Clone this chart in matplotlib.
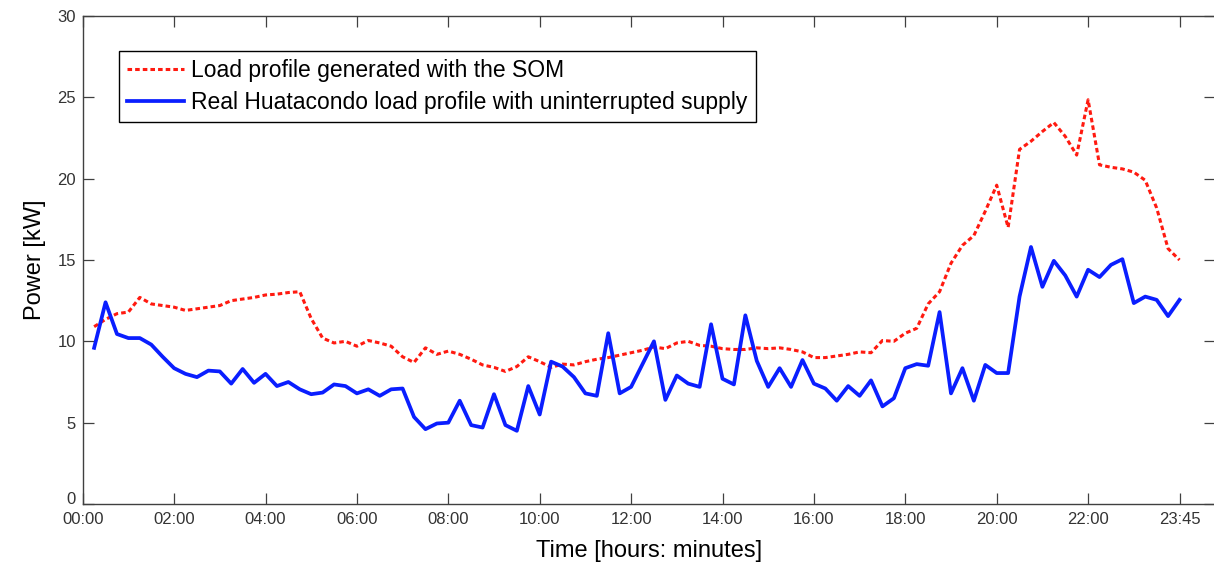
import matplotlib.pyplot as plt
import matplotlib.transforms as mtransforms
import numpy as np

plt.rcParams['font.family'] = ['Liberation Sans', 'DejaVu Sans']

# 15-minute steps, index 1..96 (tick 96 is labelled 23:45 as in the source figure)
steps = np.arange(1, 97)

som_profile = [
    10.9, 11.35, 11.7, 11.8, 12.7, 12.3, 12.2, 12.1, 11.9, 12.0,
    12.1, 12.2, 12.5, 12.6, 12.7, 12.85, 12.9, 13.0, 13.05, 11.4,
    10.2, 9.9, 10.0, 9.7, 10.05, 9.9, 9.7, 9.05, 8.7, 9.6,
    9.2, 9.4, 9.2, 8.9, 8.55, 8.4, 8.15, 8.45, 9.05, 8.75,
    8.4, 8.6, 8.55, 8.75, 8.9, 9.0, 9.15, 9.3, 9.45, 9.65,
    9.55, 9.9, 10.0, 9.75, 9.7, 9.55, 9.5, 9.5, 9.6, 9.55,
    9.6, 9.5, 9.35, 9.0, 9.0, 9.1, 9.2, 9.35, 9.3, 10.05,
    10.0, 10.5, 10.8, 12.3, 13.05, 14.8, 15.9, 16.5, 18.0, 19.6,
    17.0, 21.8, 22.3, 22.9, 23.45, 22.6, 21.45, 24.85, 20.85, 20.7,
    20.6, 20.4, 19.9, 18.2, 15.7, 15.0,
]

real_profile = [
    9.6, 12.4, 10.45, 10.2, 10.2, 9.8, 9.05, 8.35, 8.0, 7.8,
    8.2, 8.15, 7.4, 8.3, 7.45, 8.0, 7.25, 7.5, 7.05, 6.75,
    6.85, 7.35, 7.25, 6.8, 7.05, 6.65, 7.05, 7.1, 5.35, 4.6,
    4.95, 5.0, 6.35, 4.85, 4.7, 6.75, 4.85, 4.5, 7.25, 5.5,
    8.75, 8.45, 7.8, 6.8, 6.65, 10.5, 6.8, 7.2, 8.6, 10.0,
    6.4, 7.9, 7.4, 7.2, 11.05, 7.7, 7.35, 11.6, 8.8, 7.2,
    8.35, 7.2, 8.85, 7.4, 7.1, 6.35, 7.25, 6.65, 7.6, 6.0,
    6.5, 8.35, 8.6, 8.5, 11.8, 6.8, 8.35, 6.35, 8.55, 8.05,
    8.05, 12.75, 15.8, 13.35, 14.95, 14.05, 12.75, 14.4, 13.95, 14.7,
    15.05, 12.35, 12.75, 12.55, 11.55, 12.55,
]

tick_pos = [0, 8, 16, 24, 32, 40, 48, 56, 64, 72, 80, 88, 96]
tick_lbl = ['00:00', '02:00', '04:00', '06:00', '08:00', '10:00', '12:00',
            '14:00', '16:00', '18:00', '20:00', '22:00', '23:45']

W, H = 1214, 569
fig = plt.figure(figsize=(W / 100, H / 100), dpi=100)
left, right, top, bottom = 82.7, 1215, 16, 504
ax = fig.add_axes([left / W, 1 - bottom / H, (right - left) / W, (bottom - top) / H])

ax.plot(steps, som_profile, color='#ff1a10', lw=2.2, linestyle=(0, (1.5, 1.0)),
        label='Load profile generated with the SOM')
ax.plot(steps, real_profile, color='#0a1eff', lw=2.7,
        label='Real Huatacondo load profile with uninterrupted supply')

ax.set_xlim(0, (right - left) / 11.425)
ax.set_ylim(0, 30)
ax.set_xticks(tick_pos)
ax.set_xticklabels(tick_lbl)
ax.set_yticks(range(0, 31, 5))
ax.tick_params(direction='in', length=8, width=0.9, color='#404040',
               labelsize=12, labelcolor='#333333', top=True, right=True)
ax.tick_params(axis='x', pad=6)
ax.tick_params(axis='y', pad=5)

# raise the "0" label a little, like the original
fig.canvas.draw()
zero_lbl = ax.get_yticklabels()[0]
zero_lbl.set_transform(zero_lbl.get_transform() +
                       mtransforms.ScaledTranslation(0, 6 / 100, fig.dpi_scale_trans))

for s in ax.spines.values():
    s.set_color('#404040')
    s.set_linewidth(1.0)

ax.set_xlabel('Time [hours: minutes]', fontsize=17, labelpad=9)
ax.set_ylabel('Power [kW]', fontsize=17, labelpad=8)

leg = ax.legend(loc='upper left', bbox_to_anchor=(0.032, 0.928), borderaxespad=0,
                fancybox=False, edgecolor='black', framealpha=1, fontsize=16.5,
                handlelength=2.5, handletextpad=0.3, labelspacing=0.4,
                borderpad=0.35)
leg.get_frame().set_linewidth(1.0)

fig.savefig('out.png', dpi=100)
